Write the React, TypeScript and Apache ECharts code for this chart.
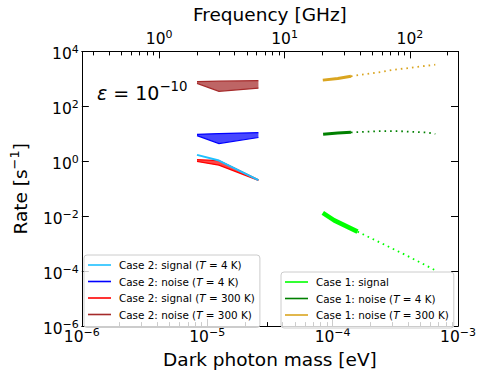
import React, { useEffect, useRef } from "react";
import * as echarts from "echarts";

const FONT = "DejaVu Sans";
const EV_PER_GHZ = 4.135667e-6;

// ---- axis ticks ----
const massMajorTicks = [1e-6, 1e-5, 1e-4, 1e-3];
const massMinorTicks = [
  2e-6, 3e-6, 4e-6, 5e-6, 6e-6, 7e-6, 8e-6, 9e-6,
  2e-5, 3e-5, 4e-5, 5e-5, 6e-5, 7e-5, 8e-5, 9e-5,
  2e-4, 3e-4, 4e-4, 5e-4, 6e-4, 7e-4, 8e-4, 9e-4,
];
const rateMajorTicks = [1e-6, 1e-4, 1e-2, 1, 1e2, 1e4];
const freqMajorTicks = [1, 10, 100];
const freqMinorTicks = [
  0.3, 0.4, 0.5, 0.6, 0.7, 0.8, 0.9,
  2, 3, 4, 5, 6, 7, 8, 9,
  20, 30, 40, 50, 60, 70, 80, 90, 200,
];

// ---- Case 2 (mass [eV], rate [1/s]) ----
const c2SignalColdLine = [[8.29e-6, 1.71], [1.24e-5, 1.06], [2.56e-5, 0.206]];
const c2NoiseColdTop = [[8.29e-6, 9.6], [1.24e-5, 10.2], [2.56e-5, 11.0]];
const c2NoiseColdBottom = [[8.29e-6, 8.6], [1.24e-5, 4.4], [2.56e-5, 7.35]];
const c2SignalHotTop = [[8.29e-6, 1.14], [1.24e-5, 1.06], [2.56e-5, 0.212]];
const c2SignalHotBottom = [[8.29e-6, 0.99], [1.24e-5, 0.72], [2.56e-5, 0.202]];
const c2NoiseHotTop = [[8.29e-6, 791], [1.24e-5, 822], [2.56e-5, 857]];
const c2NoiseHotBottom = [[8.29e-6, 689], [1.24e-5, 351], [2.56e-5, 459]];

// ---- Case 1 ----
const c1Signal = [
  [8.35e-5, 1.32e-2], [1.03e-4, 7.06e-3], [1.58e-4, 2.75e-3],
  [2.42e-4, 1.07e-3], [3.93e-4, 3.63e-4], [6.59e-4, 1.08e-4],
];
const c1NoiseCold = [
  [8.4e-5, 9.6], [1.1e-4, 10.6], [1.4e-4, 11.3], [2.42e-4, 12.6],
  [3.3e-4, 12.6], [4.17e-4, 11.9], [5.49e-4, 11.3], [6.59e-4, 9.9],
];
const c1NoiseHot = [
  [8.35e-5, 900], [1.1e-4, 1030], [1.4e-4, 1245], [1.77e-4, 1460],
  [2.42e-4, 1780], [3.06e-4, 2140], [4.17e-4, 2520], [5.49e-4, 2960], [6.59e-4, 3300],
];

const N_C2_SIG_4 = "Case 2: signal (T = 4 K)";
const N_C2_NOI_4 = "Case 2: noise (T = 4 K)";
const N_C2_SIG_300 = "Case 2: signal (T = 300 K)";
const N_C2_NOI_300 = "Case 2: noise (T = 300 K)";
const N_C1_SIG = "Case 1: signal";
const N_C1_NOI_4 = "Case 1: noise (T = 4 K)";
const N_C1_NOI_300 = "Case 1: noise (T = 300 K)";

const supLabel = (v: number) => {
  const e = Math.round(Math.log10(v));
  return "{b|10}{s|" + (e < 0 ? "\u2212" + -e : String(e)) + "}";
};
const tickRich = {
  b: { fontSize: 15.5, lineHeight: 20, fontFamily: FONT, color: "#000" },
  s: { fontSize: 11, lineHeight: 8, verticalAlign: "top", fontFamily: FONT, color: "#000" },
};

const axisLineStyle = { show: true, onZero: false, lineStyle: { color: "#000", width: 1 } };

function band(name: string, color: string, top: number[][], bottom: number[][]) {
  return {
    type: "custom",
    name,
    xAxisIndex: 0,
    yAxisIndex: 0,
    silent: true,
    itemStyle: { color },
    data: [top[0]],
    renderItem: (_p: any, api: any) => {
      const tp = top.map((p) => api.coord(p));
      const bp = bottom.map((p) => api.coord(p));
      return {
        type: "group",
        children: [
          { type: "polygon", shape: { points: tp.concat(bp.slice().reverse()) }, style: { fill: color, opacity: 0.72 } },
          { type: "polyline", shape: { points: tp }, style: { stroke: color, lineWidth: 1.2, fill: null } },
          { type: "polyline", shape: { points: bp }, style: { stroke: color, lineWidth: 1.2, fill: null } },
        ],
      };
    },
  };
}

function line(name: string, color: string, data: number[][], width: number, dash?: number[]) {
  return {
    type: "line",
    name,
    xAxisIndex: 0,
    yAxisIndex: 0,
    data,
    showSymbol: false,
    symbol: "none",
    silent: true,
    itemStyle: { color },
    lineStyle: { color, width, type: dash ? dash : "solid", cap: "butt" },
  };
}

const legendCommon = {
  orient: "vertical",
  icon: "rect",
  itemWidth: 23,
  itemHeight: 1.6,
  itemGap: 2.5,
  backgroundColor: "rgba(255,255,255,0.8)",
  borderColor: "#cccccc",
  borderWidth: 1,
  borderRadius: 3,
  padding: [3, 5, 6, 4],
  selectedMode: false,
  textStyle: {
    fontFamily: FONT,
    fontSize: 10.4,
    color: "#000",
    lineHeight: 14,
    padding: [0, 0, 0, 3],
    rich: { i: { fontStyle: "italic", fontFamily: FONT, fontSize: 10.4, lineHeight: 14, color: "#000" } },
  },
  formatter: (n: string) => n.replace("(T", "({i|T}"),
};

const option: any = {
  animation: false,
  backgroundColor: "#ffffff",
  textStyle: { fontFamily: FONT },
  grid: { left: 79, right: 21, top: 47, bottom: 43, containLabel: false },
  xAxis: [
    {
      type: "log", position: "bottom", min: 1e-6, max: 1e-3,
      axisLine: axisLineStyle, splitLine: { show: false },
      axisTick: { show: true, inside: true, length: 7, lineStyle: { color: "#000" }, customValues: massMajorTicks },
      axisLabel: { show: true, customValues: massMajorTicks, formatter: supLabel, rich: tickRich, margin: 1 },
      name: "Dark photon mass [eV]", nameLocation: "middle", nameGap: 22,
      nameTextStyle: { fontSize: 18.5, fontFamily: FONT, color: "#000" },
    },
    {
      type: "log", position: "bottom", min: 1e-6, max: 1e-3,
      axisLine: { show: false }, splitLine: { show: false },
      axisTick: { show: true, inside: true, length: 4, lineStyle: { color: "#000" }, customValues: massMinorTicks },
      axisLabel: { show: false },
    },
    {
      type: "log", position: "top", min: 1e-6 / EV_PER_GHZ, max: 1e-3 / EV_PER_GHZ,
      axisLine: axisLineStyle, splitLine: { show: false },
      axisTick: { show: true, inside: true, length: 7, lineStyle: { color: "#000" }, customValues: freqMajorTicks },
      axisLabel: { show: true, customValues: freqMajorTicks, formatter: supLabel, rich: tickRich, margin: 2.5 },
      name: "Frequency [GHz]", nameLocation: "middle", nameGap: 22,
      nameTextStyle: { fontSize: 18.5, fontFamily: FONT, color: "#000" },
    },
    {
      type: "log", position: "top", min: 1e-6 / EV_PER_GHZ, max: 1e-3 / EV_PER_GHZ,
      axisLine: { show: false }, splitLine: { show: false },
      axisTick: { show: true, inside: true, length: 4, lineStyle: { color: "#000" }, customValues: freqMinorTicks },
      axisLabel: { show: false },
    },
  ],
  yAxis: [
    {
      type: "log", position: "left", min: 1e-6, max: 1e4,
      axisLine: axisLineStyle, splitLine: { show: false },
      axisTick: { show: true, inside: true, length: 7, lineStyle: { color: "#000" }, customValues: rateMajorTicks },
      axisLabel: { show: true, customValues: rateMajorTicks, formatter: supLabel, rich: tickRich, margin: 3, padding: [6, 0, 0, 0] },
      name: "Rate [s{s|\u22121}]", nameLocation: "middle", nameRotate: 90, nameGap: 46,
      nameTextStyle: {
        fontSize: 18.5, fontFamily: FONT, color: "#000", lineHeight: 24,
        rich: { s: { fontSize: 13, fontFamily: FONT, color: "#000", verticalAlign: "top", lineHeight: 10 } },
      },
    },
    {
      type: "log", position: "right", min: 1e-6, max: 1e4,
      axisLine: axisLineStyle, splitLine: { show: false },
      axisTick: { show: true, inside: true, length: 7, lineStyle: { color: "#000" }, customValues: rateMajorTicks },
      axisLabel: { show: false },
    },
  ],
  legend: [
    { ...legendCommon, left: 84, top: 255, data: [N_C2_SIG_4, N_C2_NOI_4, N_C2_SIG_300, N_C2_NOI_300] },
    { ...legendCommon, left: 281, top: 272, data: [N_C1_SIG, N_C1_NOI_4, N_C1_NOI_300] },
  ],
  graphic: [
    {
      type: "text", left: 97, top: 80, z: 10,
      style: {
        text: "{e|\u03b5} = 10{s|\u221210}",
        fontSize: 19, fontFamily: FONT, fill: "#000", lineHeight: 26,
        rich: {
          e: { fontStyle: "italic", fontSize: 19, fontFamily: FONT, lineHeight: 26 },
          s: { fontSize: 13.3, fontFamily: FONT, lineHeight: 10, verticalAlign: "top" },
        },
      },
    },
  ],
  series: [
    line(N_C2_SIG_4, "#1ec0ff", c2SignalColdLine, 2),
    band(N_C2_NOI_4, "#0000ff", c2NoiseColdTop, c2NoiseColdBottom),
    band(N_C2_SIG_300, "#ff0000", c2SignalHotTop, c2SignalHotBottom),
    band(N_C2_NOI_300, "#a52a2a", c2NoiseHotTop, c2NoiseHotBottom),
    line(N_C1_SIG, "#00ff00", c1Signal.slice(0, 3), 4.5),
    line(N_C1_SIG, "#00ff00", c1Signal.slice(2), 1.8, [1.6, 4]),
    line(N_C1_NOI_4, "#008000", c1NoiseCold.slice(0, 3), 3),
    line(N_C1_NOI_4, "#008000", c1NoiseCold.slice(2), 1.8, [1.6, 4]),
    line(N_C1_NOI_300, "#daa520", c1NoiseHot.slice(0, 3), 3),
    line(N_C1_NOI_300, "#daa520", c1NoiseHot.slice(2), 1.8, [1.6, 4]),
  ],
};

export default function App() {
  const ref = useRef<HTMLDivElement>(null);
  useEffect(() => {
    const chart = echarts.init(ref.current as HTMLDivElement, null, { renderer: "svg" });
    chart.setOption(option);
    return () => chart.dispose();
  }, []);
  return <div ref={ref} style={{ position: "fixed", left: 0, top: 0, width: 479, height: 374 }} />;
}
